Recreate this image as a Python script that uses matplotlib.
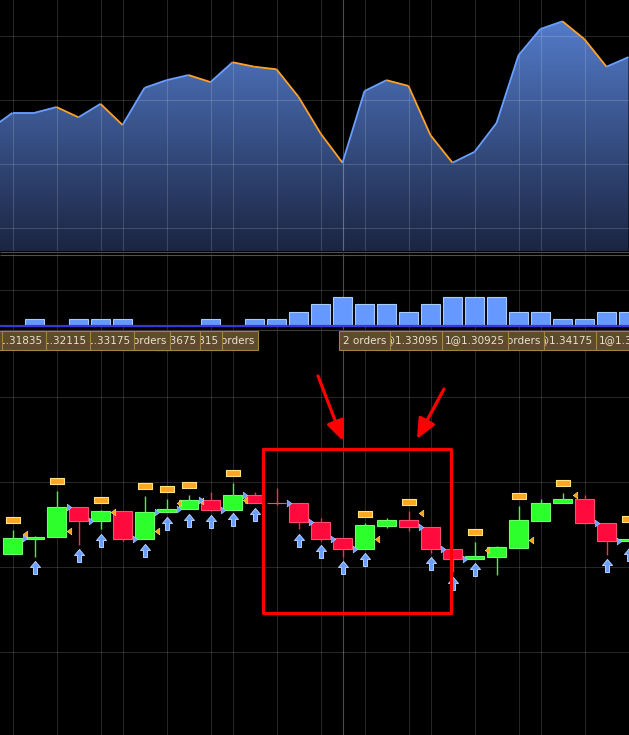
import numpy as np
import matplotlib.pyplot as plt
from matplotlib.collections import LineCollection
from matplotlib.patches import Rectangle, Polygon
from matplotlib.colors import LinearSegmentedColormap
from matplotlib.path import Path
import matplotlib.transforms as mtransforms

# ---- data ----
# top panel: close line (first point is the bar before the first visible candle)
line_bars = np.arange(-1, 29)
line_close = [1.3305, 1.3330, 1.3330, 1.3339, 1.3323, 1.3344, 1.3311, 1.3369, 1.3381, 1.3389,
              1.3378, 1.3409, 1.3402, 1.3398, 1.3355, 1.3298, 1.3252, 1.3364, 1.3381, 1.3372,
              1.3295, 1.3252, 1.3269, 1.3314, 1.3420, 1.3461, 1.3473, 1.3445, 1.3402, 1.3417]

# volume panel
volume = [0, 1, 0, 1, 1, 1, 0, 0, 0, 1, 0, 1, 1, 2, 3, 4, 3, 3, 2, 3, 4, 4, 4, 2, 2, 1, 1, 2, 2]

# candles
opens = [1.33215, 1.3329, 1.3330, 1.3345, 1.3338, 1.3343, 1.3329, 1.33425, 1.3344, 1.33485,
         1.33435, 1.3351, 1.3347, 1.3347, 1.33375, 1.33295, 1.3324, 1.33355, 1.33385, 1.3335,
         1.3324, 1.3319, 1.3320, 1.33245, 1.3338, 1.3347, 1.3349, 1.3337, 1.3328]
highs = [1.33335, 1.33305, 1.3353, 1.3345, 1.33435, 1.3343, 1.33505, 1.3349, 1.3351, 1.33525,
         1.3357, 1.33525, 1.33545, 1.3347, 1.33395, 1.33295, 1.3337, 1.33395, 1.3343, 1.3335,
         1.3324, 1.33275, 1.33255, 1.33455, 1.3349, 1.3352, 1.3351, 1.3337, 1.3329]
lows = [1.33215, 1.3320, 1.3330, 1.3326, 1.3334, 1.3328, 1.3329, 1.33425, 1.3344, 1.3343,
        1.33435, 1.3347, 1.3346, 1.3334, 1.3328, 1.3320, 1.3324, 1.33345, 1.3333, 1.3322,
        1.33125, 1.3319, 1.3311, 1.33245, 1.3338, 1.3347, 1.33365, 1.3321, 1.3328]
closes = [1.33295, 1.3330, 1.3345, 1.3338, 1.3343, 1.3329, 1.33425, 1.3344, 1.33485, 1.33435,
          1.3351, 1.3347, 1.33468, 1.33375, 1.3329, 1.3324, 1.3336, 1.33385, 1.3335, 1.3324,
          1.3319, 1.33205, 1.3325, 1.33385, 1.3347, 1.3349, 1.3337, 1.3328, 1.3329]

# order markers
sell_bars = [0, 2, 4, 6, 7, 8, 10, 16, 18, 21, 23, 25, 28]
sell_price = [1.33385, 1.3358, 1.33485, 1.33555, 1.3354, 1.3356, 1.33618, 1.33415, 1.33475,
              1.33325, 1.33505, 1.33568, 1.33388]
exit_bars = [0, 2, 4, 6, 7, 8, 10, 16, 18, 21, 23, 25]
exit_price = [1.33313, 1.3333, 1.33425, 1.3333, 1.3347, 1.3348, 1.33485, 1.33288, 1.33418,
              1.33233, 1.33283, 1.3351]
buy_bars = [1, 3, 4, 6, 7, 8, 9, 10, 11, 13, 14, 15, 16, 19, 20, 21, 27, 28]
buy_price = [1.3318, 1.3324, 1.33315, 1.33265, 1.334, 1.33415, 1.3341, 1.3342, 1.33445,
             1.33315, 1.3326, 1.3318, 1.3322, 1.3320, 1.3310, 1.3317, 1.3319, 1.33245]
fill_bars = [0, 2, 3, 5, 6, 7, 8, 9, 10, 12, 13, 14, 15, 18, 19, 20, 26, 27]

# trade labels
label_bars = [-2, 0, 2, 4, 6, 7, 8, 10, 16, 18, 21, 23, 25, 28]
label_text = ["1@1.31555", "1@1.31835", "1@1.32115", "1@1.33175", "2 orders", "1@1.33675",
              "1@1.33315", "2 orders", "2 orders", "1@1.33095", "1@1.30925", "2 orders",
              "1@1.34175", "1@1.32435"]

grid_bars = [0, 2, 4, 5, 7, 9, 10, 12, 14, 16, 18, 19, 21, 23, 24, 26]
cursor_bar = 15

# ---- figure ----
fig = plt.figure(figsize=(6.29, 7.35), dpi=100, facecolor='black')
xlim = (-12.5 / 22, (629 - 12.5) / 22)

ax1 = fig.add_axes([0, 484 / 735, 1, 251 / 735])
ax2 = fig.add_axes([0, 405 / 735, 1, 76 / 735])
ax3 = fig.add_axes([0, 0, 1, 405 / 735])
for ax in (ax1, ax2, ax3):
    ax.set_facecolor('black')
    ax.set_xlim(*xlim)
    ax.set_xticks([])
    ax.set_yticks([])
    for s in ax.spines.values():
        s.set_visible(False)
    for b in grid_bars:
        ax.axvline(b, color='white', alpha=0.15, lw=0.8, zorder=2)
    ax.axvline(cursor_bar, color='white', alpha=0.3, lw=0.8, zorder=2)

# top panel
ylo, yhi = 1.31141, 1.350625
ax1.set_ylim(ylo, yhi)
cmap = LinearSegmentedColormap.from_list('area', ['#1b2542', '#5883d6'])
grad = np.linspace(0, 1, 256).reshape(-1, 1)
im = ax1.imshow(grad, extent=[xlim[0], xlim[1], ylo, yhi], origin='lower',
                aspect='auto', cmap=cmap, zorder=1)
verts = [(line_bars[0], ylo)] + list(zip(line_bars, line_close)) + [(line_bars[-1], ylo)]
area = Polygon(verts, closed=True, facecolor='none', edgecolor='none')
ax1.add_patch(area)
im.set_clip_path(area)
for v in [1.345, 1.335, 1.325, 1.315]:
    ax1.axhline(v, color='white', alpha=0.15, lw=0.8, zorder=2)
pts = np.column_stack([line_bars, line_close])
segs = np.stack([pts[:-1], pts[1:]], axis=1)
cols = ['#6a9eff' if b >= a else '#ffa126' for a, b in zip(line_close[:-1], line_close[1:])]
ax1.add_collection(LineCollection(segs, colors=cols, linewidths=1.3, zorder=3))

# volume panel
ax2.set_ylim(-0.507, 9.9)
ax2.axhline(5, color='white', alpha=0.15, lw=0.8, zorder=2)
ax2.bar(range(len(volume)), volume, width=0.82, color='#6699ff', edgecolor='#a8cbff',
        linewidth=0.8, zorder=3)
ax2.axhline(0, color='#3838d8', lw=1.6, zorder=4)

# candle panel
ax3.set_ylim(1.3231, 1.34335)
for v in np.arange(1.3400, 1.325, -0.00425):
    ax3.axhline(v, color='white', alpha=0.15, lw=0.8, zorder=2)
x = np.arange(len(opens))
o = np.array(opens)
c = np.array(closes)
up = c > o
body_lo = np.minimum(o, c)
body_h = np.maximum(np.abs(c - o), 0.00001)
wick_col = np.where(up, '#3cff3c', '#ff2a55')
ax3.vlines(x, lows, highs, colors=wick_col, lw=1.0, zorder=3)
ax3.bar(x[up], body_h[up], bottom=body_lo[up], width=0.82, color='#2cff2c',
        edgecolor='#6cff6c', linewidth=0.8, zorder=4)
ax3.bar(x[~up], body_h[~up], bottom=body_lo[~up], width=0.82, color='#ff0a3c',
        edgecolor='#ff4d70', linewidth=0.8, zorder=4)

rect_m = Path([(-6.5, -3), (6.5, -3), (6.5, 3), (-6.5, 3), (-6.5, -3)])
ax3.plot(sell_bars, sell_price, ls='none', marker=rect_m, markersize=9.4,
         mfc='#ffa624', mec='#ffe27a', mew=0.8, zorder=5)
left_m = Path([(-2, 0), (2, 3), (2, -3), (-2, 0)])
ax3.plot(np.array(exit_bars) + 0.55, exit_price, ls='none', marker=left_m, markersize=4.8,
         mfc='#ff9f1c', mec='#ffd060', mew=0.5, zorder=5)
right_m = Path([(2, 0), (-2, 3), (-2, -3), (2, 0)])
ax3.plot(np.array(fill_bars) + 0.55, c[fill_bars], ls='none', marker=right_m, markersize=4.8,
         mfc='#6a9eff', mec='#a8c8ff', mew=0.5, zorder=5)
arrow_m = Path([(0, 0), (5, -6), (2, -6), (2, -13), (-2, -13), (-2, -6), (-5, -6), (0, 0)])
ax3.plot(buy_bars, buy_price, ls='none', marker=arrow_m, markersize=18.7,
         mfc='#6a9eff', mec='#b0cfff', mew=0.7, zorder=5)

# trade labels, left ones drawn on top
blend = mtransforms.blended_transform_factory(ax3.transData, ax3.transAxes)
y0, h = (735 - 350) / 405, 19 / 405
n = len(label_bars)
for i in range(n - 1, -1, -1):
    b, t = label_bars[i], label_text[i]
    w = 3.0 if '@' in t else 2.32
    z = 10 + 2 * (n - i)
    ax3.add_patch(Rectangle((b - w / 2, y0), w, h, transform=blend, facecolor='#5d4b2b',
                            edgecolor='#a5843f', lw=0.8, zorder=z))
    ax3.text(b, y0 + h / 2, t, transform=blend, ha='center', va='center', fontsize=7.5,
             color='#e8e2d0', zorder=z + 1)

# overlay: panel separators and red markup
ov = fig.add_axes([0, 0, 1, 1], facecolor='none')
ov.set_xlim(0, 629)
ov.set_ylim(735, 0)
ov.axis('off')
ov.hlines([251.5, 254.5], 0, 629, color='#505050', lw=0.8)
ov.hlines([329.5], 0, 629, color='#3c3c3c', lw=0.8)
ov.add_patch(Rectangle((263, 449), 188, 164, fill=False, ec='#ff0000', lw=2.3,
                       joinstyle='round'))
arrow_kw = dict(arrowstyle='-|>,head_length=1.0,head_width=0.45', mutation_scale=12,
                lw=2.3, color='#ff0000', shrinkA=0, shrinkB=0)
ov.annotate('', xy=(343, 441), xytext=(318, 376), arrowprops=arrow_kw)
ov.annotate('', xy=(417, 439), xytext=(444, 389), arrowprops=arrow_kw)

fig.savefig('out.png', dpi=100, facecolor='black')
